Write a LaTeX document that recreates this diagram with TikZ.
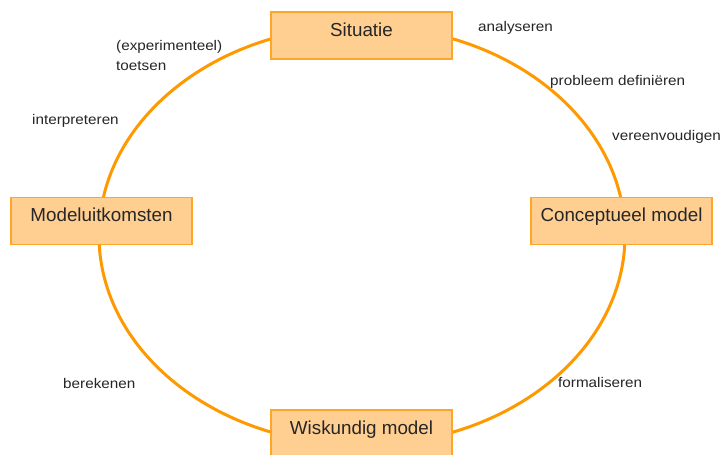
\documentclass[tikz,border=0pt]{standalone}
\usepackage{fontspec}
\setmainfont{Liberation Sans}
\definecolor{ringc}{RGB}{255,153,0}
\definecolor{boxfill}{RGB}{255,206,145}
\definecolor{boxline}{RGB}{255,166,40}
\begin{document}
\begin{tikzpicture}[x=1pt,y=1pt,
  stagebox/.style={draw=boxline,line width=1.4pt,fill=boxfill,minimum width=181pt,minimum height=47pt,inner sep=0pt,text height=14pt,text depth=12.6pt,font=\fontsize{18.8}{22}\selectfont,text=black!85},
  steplabel/.style={anchor=west,inner sep=0pt,font=\fontsize{14}{17}\selectfont,xscale=1.09,text=black!85,align=left}]
\useasboundingbox (0,0) rectangle (723,455);
\clip (0,0) rectangle (723,455);
\fill[white] (0,0) rectangle (723,455);
\coordinate (ctr) at (362,219.5);
\draw[ringc,line width=3pt] (ctr) ellipse [x radius=263, y radius=209.5];
\node[stagebox] (sit) at (361.5,419.5) {Situatie};
\node[stagebox] (mod) at (101.5,234) {Modeluitkomsten};
\node[stagebox] (con) at (621.5,234) {Conceptueel model};
\node[stagebox] (wis) at (361.5,21.5) {Wiskundig model};
\node[steplabel] (ana) at (478,427) {analyseren};
\node[steplabel] (pro) at (550,373) {probleem definiëren};
\node[steplabel] (ver) at (612,318) {vereenvoudigen};
\node[steplabel] (exp) at (116,408) {(experimenteel)};
\node[steplabel] (toe) at (116,389) {toetsen};
\node[steplabel] (int) at (32,334) {interpreteren};
\node[steplabel] (ber) at (63,72) {berekenen};
\node[steplabel] (for) at (558,73) {formaliseren};
\end{tikzpicture}
\end{document}
